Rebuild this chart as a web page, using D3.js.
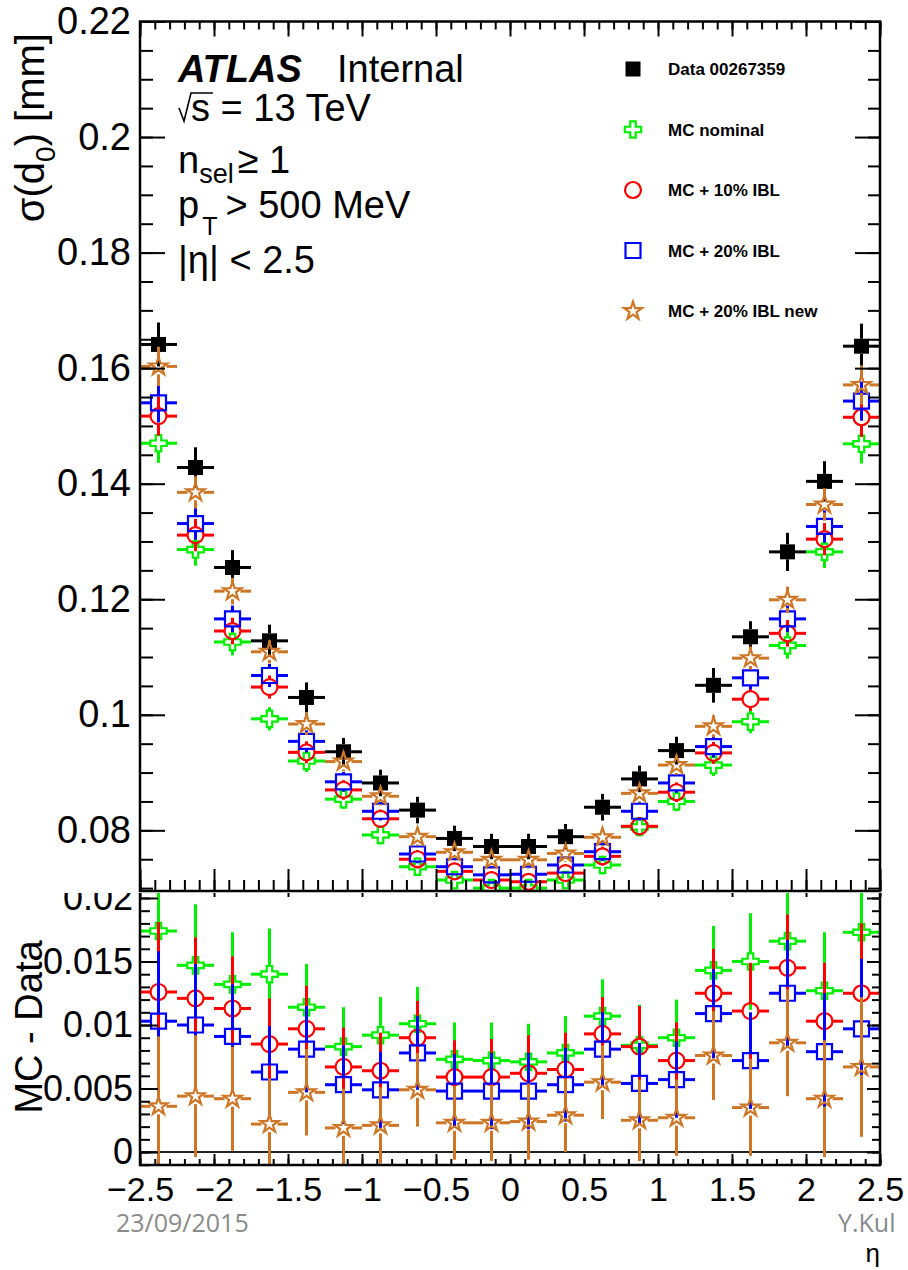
<!DOCTYPE html>
<html>
<head>
<meta charset="utf-8">
<script src="https://cdnjs.cloudflare.com/ajax/libs/d3/7.8.5/d3.min.js"></script>
<style>
  body { margin: 0; background: #fff; }
  svg { display: block; font-family: "Liberation Sans", Arial, Helvetica, sans-serif; }
</style>
</head>
<body>
<svg id="chart" width="908" height="1270"></svg>
<script>
// eta bins (centres), width 0.25
const etaCenters = [-2.375, -2.125, -1.875, -1.625, -1.375, -1.125, -0.875, -0.625, -0.375, -0.125,
                    0.125, 0.375, 0.625, 0.875, 1.125, 1.375, 1.625, 1.875, 2.125, 2.375];
const binHalf = 0.125;

// top panel: sigma(d0) [mm]
const dataSigma = [0.1641, 0.1428, 0.1255, 0.1128, 0.1030, 0.0936, 0.0882, 0.0835, 0.0786, 0.0772,
                   0.0772, 0.0789, 0.0840, 0.0889, 0.0938, 0.1051, 0.1135, 0.1282, 0.1404, 0.1638];
const dataErr = [0.0038, 0.0035, 0.0030, 0.0028, 0.0026, 0.0024, 0.0023, 0.0023, 0.0022, 0.0022,
                 0.0022, 0.0022, 0.0023, 0.0023, 0.0024, 0.0030, 0.0027, 0.0033, 0.0035, 0.0039];
const mcNominal = [0.1470, 0.1286, 0.1126, 0.0993, 0.0920, 0.0854, 0.0792, 0.0737, 0.0714, 0.0700,
                   0.0700, 0.0714, 0.0740, 0.0806, 0.0850, 0.0913, 0.0988, 0.1120, 0.1282, 0.1469];
const mcIbl10 = [0.1517, 0.1311, 0.1145, 0.1048, 0.0935, 0.0870, 0.0820, 0.0750, 0.0729, 0.0714,
                 0.0711, 0.0726, 0.0755, 0.0807, 0.0866, 0.0934, 0.1027, 0.1141, 0.1304, 0.1515];
const mcIbl20 = [0.1540, 0.1331, 0.1166, 0.1068, 0.0954, 0.0884, 0.0833, 0.0759, 0.0737, 0.0723,
                 0.0724, 0.0740, 0.0763, 0.0833, 0.0882, 0.0945, 0.1064, 0.1166, 0.1326, 0.1543];
const mcIbl20New = [0.1603, 0.1385, 0.1214, 0.1109, 0.0984, 0.0919, 0.0859, 0.0789, 0.0762, 0.0749,
                    0.0749, 0.0760, 0.0788, 0.0864, 0.0913, 0.0980, 0.1098, 0.1199, 0.1364, 0.1571];
const mcErr = [0.0034, 0.0028, 0.0023, 0.0020, 0.0019, 0.0017, 0.0016, 0.0016, 0.0015, 0.0015,
               0.0015, 0.0015, 0.0016, 0.0016, 0.0017, 0.0019, 0.0020, 0.0023, 0.0028, 0.0034];

// bottom panel: MC - Data
const diffNominal = [0.0174, 0.0147, 0.0132, 0.0140, 0.0114, 0.0083, 0.0092, 0.0101, 0.0073, 0.0072,
                     0.0071, 0.0078, 0.0107, 0.0084, 0.0090, 0.0143, 0.0150, 0.0166, 0.0127, 0.0173];
const diffIbl10 = [0.0126, 0.0121, 0.0113, 0.0085, 0.0097, 0.0067, 0.0064, 0.0090, 0.0059, 0.0059,
                   0.0062, 0.0065, 0.0093, 0.0083, 0.0072, 0.0125, 0.0111, 0.0145, 0.0103, 0.0125];
const diffIbl20 = [0.0103, 0.0100, 0.0091, 0.0063, 0.0081, 0.0053, 0.0049, 0.0078, 0.0048, 0.0048,
                   0.0048, 0.0053, 0.0081, 0.0054, 0.0057, 0.0109, 0.0072, 0.0125, 0.0079, 0.0097];
const diffIbl20New = [0.0036, 0.0044, 0.0042, 0.0022, 0.0047, 0.0019, 0.0021, 0.0049, 0.0023, 0.0023,
                      0.0024, 0.0029, 0.0055, 0.0025, 0.0027, 0.0076, 0.0035, 0.0086, 0.0042, 0.0067];
const diffErr = [0.0055, 0.0048, 0.0041, 0.0036, 0.0034, 0.0031, 0.0030, 0.0029, 0.0029, 0.0030,
                 0.0030, 0.0029, 0.0029, 0.0032, 0.0030, 0.0035, 0.0038, 0.0042, 0.0046, 0.0055];

const legendLabels = ["Data 00267359", "MC nominal", "MC + 10% IBL", "MC + 20% IBL", "MC + 20% IBL new"];
const xTickValues = [-2.5, -2, -1.5, -1, -0.5, 0, 0.5, 1, 1.5, 2, 2.5];
const yTopTickValues = [0.08, 0.1, 0.12, 0.14, 0.16, 0.18, 0.2, 0.22];
const yBotTickValues = [0, 0.005, 0.01, 0.015, 0.02];

const svg = d3.select("#chart");

const FRAME = {left: 140, right: 880};
const TOP = {top: 21.5, bottom: 891};
const BOT = {top: 891, bottom: 1165};

const x = d3.scaleLinear().domain([-2.5, 2.5]).range([FRAME.left, FRAME.right]);
const yTop = d3.scaleLinear().domain([0.0695, 0.22]).range([TOP.bottom, TOP.top]);
const yBot = d3.scaleLinear().domain([-0.00102, 0.02055]).range([BOT.bottom, BOT.top]);

const sym = (type, size) => d3.symbol(type, size)();
const styles = [
  {key: "data",  color: "#000",    path: sym(d3.symbolSquare, 225), gap: 7.5, filled: true},
  {key: "nom",   color: "#00ee00", path: sym(d3.symbolCross, 150),  gap: 8},
  {key: "ibl10", color: "#ff0000", path: sym(d3.symbolCircle, 200), gap: 8},
  {key: "ibl20", color: "#0000ff", path: sym(d3.symbolSquare, 225), gap: 7.5},
  {key: "new",   color: "#cc7626", path: sym(d3.symbolStar, 100),   gap: 8}
];

const defs = svg.append("defs");
defs.append("clipPath").attr("id", "clipTop").append("rect")
  .attr("x", FRAME.left).attr("y", TOP.top)
  .attr("width", FRAME.right - FRAME.left).attr("height", TOP.bottom - TOP.top);
defs.append("clipPath").attr("id", "clipBot").append("rect")
  .attr("x", FRAME.left).attr("y", BOT.top)
  .attr("width", FRAME.right - FRAME.left).attr("height", BOT.bottom - BOT.top);

function drawSeries(g, y, vals, errs, st, clipId) {
  let grp = g.append("g").attr("clip-path", "url(#" + clipId + ")");
  let segs = [];
  vals.forEach((v, i) => {
    let cx = x(etaCenters[i]), cy = y(v), h = st.gap;
    segs.push([x(etaCenters[i] - binHalf), cy, cx - h, cy]);
    segs.push([cx + h, cy, x(etaCenters[i] + binHalf), cy]);
    let yHi = y(v + errs[i]), yLo = y(v - errs[i]);
    if (yHi < cy - h) segs.push([cx, yHi, cx, cy - h]);
    if (yLo > cy + h) segs.push([cx, cy + h, cx, yLo]);
  });
  grp.selectAll("line").data(segs).join("line")
    .attr("x1", d => d[0]).attr("y1", d => d[1])
    .attr("x2", d => d[2]).attr("y2", d => d[3])
    .attr("stroke", st.color).attr("stroke-width", 3);
  grp.selectAll("path").data(vals).join("path")
    .attr("d", st.path)
    .attr("transform", (v, i) => "translate(" + x(etaCenters[i]) + "," + y(v) + ")")
    .attr("fill", st.filled ? st.color : "none")
    .attr("stroke", st.filled ? "none" : st.color)
    .attr("stroke-width", 2.2);
}

function tickAxis(g, axis, values, size, pad, fmt, fontSize) {
  g.call(axis.tickValues(values).tickSize(size).tickPadding(pad).tickFormat(fmt));
  g.select(".domain").remove();
  g.selectAll(".tick line").attr("stroke", "#000").attr("stroke-width", 2);
  g.selectAll(".tick text")
    .attr("fill", "#000")
    .attr("font-family", "Liberation Sans, Arial, sans-serif")
    .attr("font-size", fontSize || 10);
}

const fmtNum = d => String(+d.toFixed(3)).replace("-", "\u2212");
const xMinor = x.ticks(50);

// ---------- bottom pad (drawn first, top pad covers its upper edge) ----------
const gBot = svg.append("g");

gBot.append("line")
  .attr("x1", FRAME.left).attr("x2", FRAME.right)
  .attr("y1", yBot(0)).attr("y2", yBot(0))
  .attr("stroke", "#222").attr("stroke-width", 2);

drawSeries(gBot, yBot, diffNominal, diffErr, styles[1], "clipBot");
drawSeries(gBot, yBot, diffIbl10, diffErr, styles[2], "clipBot");
drawSeries(gBot, yBot, diffIbl20, diffErr, styles[3], "clipBot");
drawSeries(gBot, yBot, diffIbl20New, diffErr, styles[4], "clipBot");

const yBotMinor = d3.range(-0.001, 0.0206, 0.001);
tickAxis(gBot.append("g").attr("transform", "translate(" + FRAME.left + ",0)"),
  d3.axisLeft(yBot), yBotMinor, -10, 0, "");
tickAxis(gBot.append("g").attr("transform", "translate(" + FRAME.left + ",0)"),
  d3.axisLeft(yBot), yBotTickValues, -18, 7, fmtNum, 36);
tickAxis(gBot.append("g").attr("transform", "translate(" + FRAME.right + ",0)"),
  d3.axisRight(yBot), yBotMinor, -8, 0, "");
tickAxis(gBot.append("g").attr("transform", "translate(" + FRAME.right + ",0)"),
  d3.axisRight(yBot), yBotTickValues, -13, 0, "");
tickAxis(gBot.append("g").attr("transform", "translate(0," + BOT.bottom + ")"),
  d3.axisBottom(x), xMinor, -6, 0, "");
tickAxis(gBot.append("g").attr("transform", "translate(0," + BOT.bottom + ")"),
  d3.axisBottom(x), xTickValues, -11, 12, fmtNum, 34);
tickAxis(gBot.append("g").attr("transform", "translate(0," + BOT.top + ")"),
  d3.axisTop(x), xTickValues, -6, 0, "");

gBot.append("rect")
  .attr("x", FRAME.left).attr("y", BOT.top)
  .attr("width", FRAME.right - FRAME.left).attr("height", BOT.bottom - BOT.top)
  .attr("fill", "none").attr("stroke", "#000").attr("stroke-width", 2.5);

gBot.append("text")
  .attr("transform", "translate(42,1027) rotate(-90)")
  .attr("text-anchor", "middle").attr("font-size", 38)
  .text("MC - Data");

// x axis title and slide footer
svg.append("text").attr("x", 880).attr("y", 1262).attr("text-anchor", "end")
  .attr("font-size", 26).text("\u03b7");
svg.append("text").attr("x", 116).attr("y", 1232)
  .attr("font-family", "Open Sans, sans-serif").attr("font-size", 25).attr("fill", "#8a8a8a")
  .text("23/09/2015");
svg.append("text").attr("x", 838).attr("y", 1232)
  .attr("font-family", "Open Sans, sans-serif").attr("font-size", 25).attr("fill", "#8a8a8a")
  .text("Y.Kul");

// ---------- top pad ----------
svg.append("rect").attr("x", 0).attr("y", 0).attr("width", 908).attr("height", 893).attr("fill", "#fff");
const gTop = svg.append("g");

drawSeries(gTop, yTop, dataSigma, dataErr, styles[0], "clipTop");
drawSeries(gTop, yTop, mcNominal, mcErr, styles[1], "clipTop");
drawSeries(gTop, yTop, mcIbl10, mcErr, styles[2], "clipTop");
drawSeries(gTop, yTop, mcIbl20, mcErr, styles[3], "clipTop");
drawSeries(gTop, yTop, mcIbl20New, mcErr, styles[4], "clipTop");

const yTopMinor = d3.range(0.07, 0.2201, 0.005);
tickAxis(gTop.append("g").attr("transform", "translate(" + FRAME.left + ",0)"),
  d3.axisLeft(yTop), yTopMinor, -13, 0, "");
tickAxis(gTop.append("g").attr("transform", "translate(" + FRAME.left + ",0)"),
  d3.axisLeft(yTop), yTopTickValues, -25, 9, fmtNum, 38);
tickAxis(gTop.append("g").attr("transform", "translate(" + FRAME.right + ",0)"),
  d3.axisRight(yTop), yTopMinor, -12, 0, "");
tickAxis(gTop.append("g").attr("transform", "translate(" + FRAME.right + ",0)"),
  d3.axisRight(yTop), yTopTickValues, -25, 0, "");
tickAxis(gTop.append("g").attr("transform", "translate(0," + TOP.top + ")"),
  d3.axisTop(x), xMinor, -8, 0, "");
tickAxis(gTop.append("g").attr("transform", "translate(0," + TOP.top + ")"),
  d3.axisTop(x), xTickValues, -15, 0, "");
tickAxis(gTop.append("g").attr("transform", "translate(0," + TOP.bottom + ")"),
  d3.axisBottom(x), xMinor, -11, 0, "");
tickAxis(gTop.append("g").attr("transform", "translate(0," + TOP.bottom + ")"),
  d3.axisBottom(x), xTickValues, -22, 0, "");

gTop.append("rect")
  .attr("x", FRAME.left).attr("y", TOP.top)
  .attr("width", FRAME.right - FRAME.left).attr("height", TOP.bottom - TOP.top)
  .attr("fill", "none").attr("stroke", "#000").attr("stroke-width", 2.5);

// y title
let yt = gTop.append("text")
  .attr("transform", "translate(44,33) rotate(-90)")
  .attr("text-anchor", "end").attr("font-size", 40);
yt.append("tspan").text("\u03c3(d");
yt.append("tspan").attr("font-size", 28).attr("dy", 11).text("0");
yt.append("tspan").attr("dy", -11).text(")  [mm]");

// ATLAS label block
let atl = gTop.append("text").attr("x", 178).attr("y", 82).attr("font-size", 38);
atl.append("tspan").attr("font-weight", "bold").attr("font-style", "italic").text("ATLAS");
gTop.append("text").attr("x", 337).attr("y", 82).attr("font-size", 38).text("Internal");

gTop.append("path").attr("d", "M179,108 L184,121 L191,93 L213,93")
  .attr("fill", "none").attr("stroke", "#000").attr("stroke-width", 1.6);
gTop.append("text").attr("x", 191).attr("y", 121).attr("font-size", 38).text("s = 13 TeV");

let nsel = gTop.append("text").attr("x", 178).attr("y", 173).attr("font-size", 38);
nsel.append("tspan").text("n");
nsel.append("tspan").attr("font-size", 27).attr("dy", 10).text("sel");
nsel.append("tspan").attr("dy", -10).attr("dx", 4).text("\u2265 1");

let pt = gTop.append("text").attr("x", 178).attr("y", 218).attr("font-size", 38);
pt.append("tspan").text("p");
pt.append("tspan").attr("font-size", 25).attr("dy", 17).attr("dx", 3).text("T");
pt.append("tspan").attr("dy", -17).attr("dx", 8).text("> 500 MeV");

gTop.append("text").attr("x", 178).attr("y", 273).attr("font-size", 38).text("|\u03b7| < 2.5");

// legend
const legendY = d3.scalePoint().domain(legendLabels).range([69, 311]);
const leg = gTop.append("g");
legendLabels.forEach((lab, i) => {
  let st = styles[i];
  leg.append("path")
    .attr("d", st.path)
    .attr("transform", "translate(633," + legendY(lab) + ")")
    .attr("fill", st.filled ? st.color : "none")
    .attr("stroke", st.filled ? "none" : st.color)
    .attr("stroke-width", 2.2);
  leg.append("text")
    .attr("x", 668).attr("y", legendY(lab) + 6)
    .attr("font-size", 17).attr("font-weight", "bold")
    .text(lab);
});
</script>
</body>
</html>
